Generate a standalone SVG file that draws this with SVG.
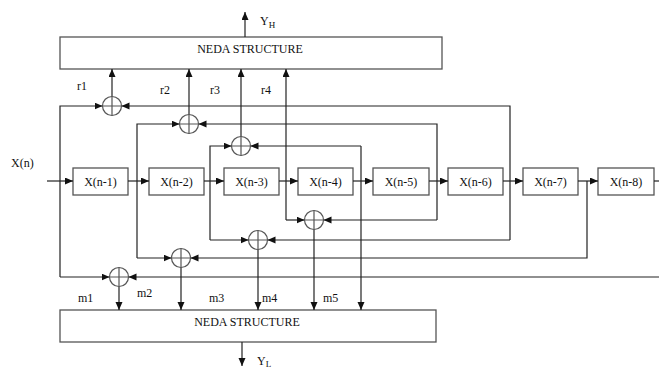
<svg xmlns="http://www.w3.org/2000/svg" width="659" height="372" viewBox="0 0 659 372">
<style>
.box{fill:#fff;stroke:#555;stroke-width:1.3}
.ln{fill:none;stroke:#222;stroke-width:1.2}
.ad{fill:none;stroke:#555;stroke-width:1.2}
text{font-family:"Liberation Serif","Times New Roman",serif;font-size:12px;fill:#111}
.c{text-anchor:middle}
.sub{font-size:9px}
</style>
<defs>
<marker id="ah" markerUnits="userSpaceOnUse" markerWidth="9" markerHeight="8" refX="8" refY="3.5" orient="auto">
<path d="M0,0 L8,3.5 L0,7 z" fill="#111"/>
</marker>
</defs>
<g id="neda-top"><rect class="box" x="60" y="37" width="382" height="32"/><text class="c" x="250" y="53">NEDA STRUCTURE</text></g>
<g id="neda-bottom"><rect class="box" x="60" y="310" width="376" height="32"/><text class="c" x="247" y="326">NEDA STRUCTURE</text></g>
<g id="d1"><rect class="box" x="73" y="168" width="55" height="27"/><text class="c" x="100.5" y="185.5">X(n-1)</text></g>
<g id="d2"><rect class="box" x="149" y="168" width="55" height="27"/><text class="c" x="176.5" y="185.5">X(n-2)</text></g>
<g id="d3"><rect class="box" x="224" y="168" width="55" height="27"/><text class="c" x="251.5" y="185.5">X(n-3)</text></g>
<g id="d4"><rect class="box" x="298" y="168" width="55" height="27"/><text class="c" x="325.5" y="185.5">X(n-4)</text></g>
<g id="d5"><rect class="box" x="373" y="168" width="56" height="27"/><text class="c" x="401" y="185.5">X(n-5)</text></g>
<g id="d6"><rect class="box" x="448" y="168" width="55" height="27"/><text class="c" x="475.5" y="185.5">X(n-6)</text></g>
<g id="d7"><rect class="box" x="523" y="168" width="55" height="27"/><text class="c" x="550.5" y="185.5">X(n-7)</text></g>
<g id="d8"><rect class="box" x="598" y="168" width="56" height="27"/><text class="c" x="626" y="185.5">X(n-8)</text></g>
<g id="connectors">
<path class="ln" d="M47,181 H73" marker-end="url(#ah)"/>
<path class="ln" d="M128,181 H149" marker-end="url(#ah)"/>
<path class="ln" d="M204,181 H224" marker-end="url(#ah)"/>
<path class="ln" d="M279,181 H298" marker-end="url(#ah)"/>
<path class="ln" d="M353,181 H373" marker-end="url(#ah)"/>
<path class="ln" d="M429,181 H448" marker-end="url(#ah)"/>
<path class="ln" d="M503,181 H523" marker-end="url(#ah)"/>
<path class="ln" d="M578,181 H598" marker-end="url(#ah)"/>
<path class="ln" d="M654,181 H659"/>
<path class="ln" d="M60,277 V106 H102.5" marker-end="url(#ah)"/>
<path class="ln" d="M60,277 H109.5" marker-end="url(#ah)"/>
<path class="ln" d="M510,240 V106 H121.5" marker-end="url(#ah)"/>
<path class="ln" d="M510,240 H267.5" marker-end="url(#ah)"/>
<path class="ln" d="M112,96.5 V69" marker-end="url(#ah)"/>
<path class="ln" d="M137,258 V124 H179.5" marker-end="url(#ah)"/>
<path class="ln" d="M137,258 H171.5" marker-end="url(#ah)"/>
<path class="ln" d="M437,220 V124 H198.5" marker-end="url(#ah)"/>
<path class="ln" d="M437,220 H323.5" marker-end="url(#ah)"/>
<path class="ln" d="M189,114.5 V69" marker-end="url(#ah)"/>
<path class="ln" d="M210,240 V146 H231.5" marker-end="url(#ah)"/>
<path class="ln" d="M210,240 H248.5" marker-end="url(#ah)"/>
<path class="ln" d="M361,146 H250.5" marker-end="url(#ah)"/>
<path class="ln" d="M361,146 V310" marker-end="url(#ah)"/>
<path class="ln" d="M241,136.5 V69" marker-end="url(#ah)"/>
<path class="ln" d="M286,220 V69" marker-end="url(#ah)"/>
<path class="ln" d="M286,220 H304.5" marker-end="url(#ah)"/>
<path class="ln" d="M587,181 V258 H190.5" marker-end="url(#ah)"/>
<path class="ln" d="M659,277 H128.5" marker-end="url(#ah)"/>
<path class="ln" d="M119,286.5 V310" marker-end="url(#ah)"/>
<path class="ln" d="M181,267.5 V310" marker-end="url(#ah)"/>
<path class="ln" d="M258,249.5 V310" marker-end="url(#ah)"/>
<path class="ln" d="M314,229.5 V310" marker-end="url(#ah)"/>
<path class="ln" d="M245,37 V12" marker-end="url(#ah)"/>
<path class="ln" d="M242,342 V366" marker-end="url(#ah)"/>
</g>
<g id="add-r1"><circle class="ad" cx="112" cy="106" r="9.5"/><path class="ad" d="M102.5,106 H121.5 M112,96.5 V115.5"/></g>
<g id="add-r2"><circle class="ad" cx="189" cy="124" r="9.5"/><path class="ad" d="M179.5,124 H198.5 M189,114.5 V133.5"/></g>
<g id="add-r3"><circle class="ad" cx="241" cy="146" r="9.5"/><path class="ad" d="M231.5,146 H250.5 M241,136.5 V155.5"/></g>
<g id="add-m5"><circle class="ad" cx="314" cy="220" r="9.5"/><path class="ad" d="M304.5,220 H323.5 M314,210.5 V229.5"/></g>
<g id="add-m4"><circle class="ad" cx="258" cy="240" r="9.5"/><path class="ad" d="M248.5,240 H267.5 M258,230.5 V249.5"/></g>
<g id="add-m2"><circle class="ad" cx="181" cy="258" r="9.5"/><path class="ad" d="M171.5,258 H190.5 M181,248.5 V267.5"/></g>
<g id="add-m1"><circle class="ad" cx="119" cy="277" r="9.5"/><path class="ad" d="M109.5,277 H128.5 M119,267.5 V286.5"/></g>
<g id="labels">
<text x="11" y="167">X(n)</text>
<text x="260" y="25">Y<tspan class="sub" dy="3">H</tspan></text>
<text x="257" y="365">Y<tspan class="sub" dy="2">L</tspan></text>
<text x="77" y="90">r1</text>
<text x="160" y="94">r2</text>
<text x="210" y="94">r3</text>
<text x="261" y="94">r4</text>
<text x="78" y="302">m1</text>
<text x="137" y="297">m2</text>
<text x="209" y="302">m3</text>
<text x="262" y="302">m4</text>
<text x="323" y="302">m5</text>
</g>
</svg>
